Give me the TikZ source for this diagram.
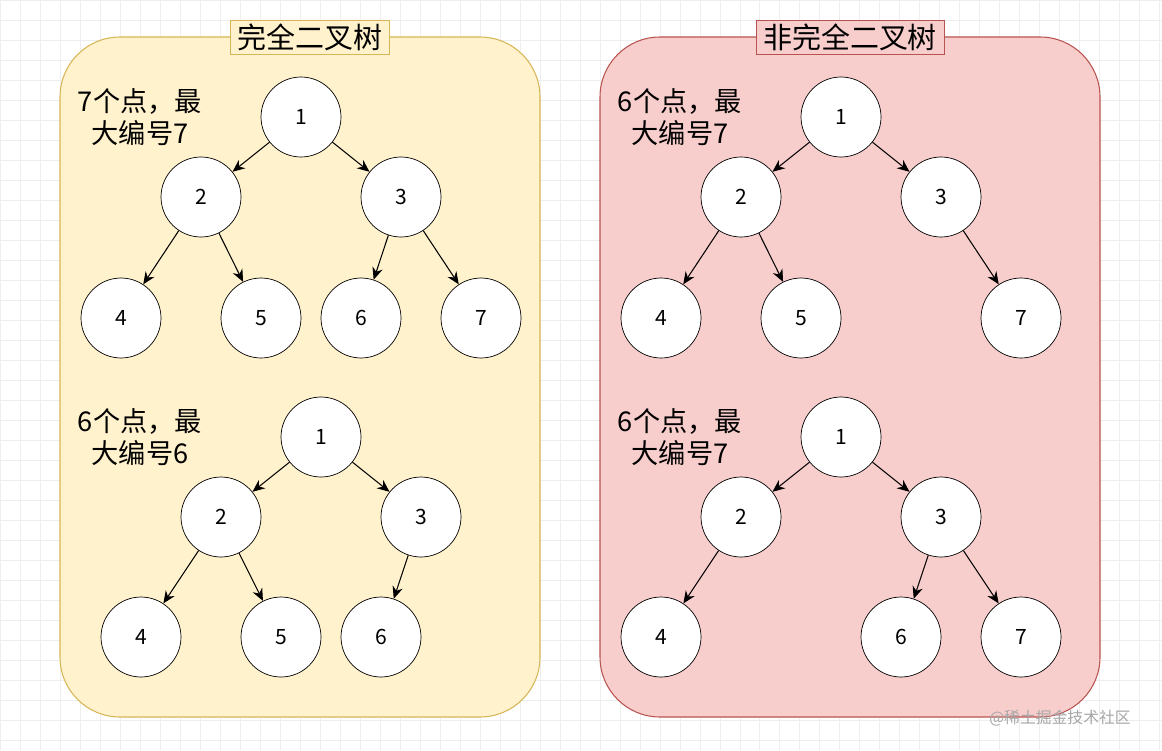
\documentclass[tikz,border=0pt]{standalone}
\usepackage{fontspec}
\setmainfont{Noto Sans CJK SC}
\usetikzlibrary{arrows.meta, positioning}
\definecolor{yelfill}{HTML}{FFF2CC}
\definecolor{yeldraw}{HTML}{D6B656}
\definecolor{redfill}{HTML}{F8CECC}
\definecolor{reddraw}{HTML}{B85450}
\definecolor{gridgray}{HTML}{EEEEEE}

\tikzset{
    treenode/.style={draw=black, fill=white, circle, minimum size=1.6cm, inner sep=0pt, font=\fontsize{12}{14}\selectfont},
    panel/.style={rounded corners=1.2cm, line width=0.6pt},
    paneltitle/.style={draw, font=\fontsize{16.5}{19}\selectfont, inner xsep=4pt, inner ysep=2pt},
    countlabel/.style={align=center, font=\fontsize{15.5}{18.5}\selectfont},
    edge/.style={-{Stealth[length=7pt,width=6pt]}, line width=0.6pt}
}

\begin{document}
\begin{tikzpicture}[x=0.02cm, y=-0.02cm]
    \useasboundingbox (0,0) rectangle (1162,750);
    \fill[white] (0,0) rectangle (1162,750);
    \draw[gridgray, step=0.4cm] (0,0) grid (1162,750);

    % panels
    \draw[panel, fill=yelfill, draw=yeldraw] (60,37) rectangle (540,717);
    \draw[panel, fill=redfill, draw=reddraw] (600,37) rectangle (1100,717);
    \node[paneltitle, fill=yelfill, draw=yeldraw] (titlea) at (310,37) {完全二叉树};
    \node[paneltitle, fill=redfill, draw=reddraw] (titleb) at (850,37) {非完全二叉树};

    % left top tree
    \node[countlabel] (cnta) at (140,117) {7个点，最\\大编号7};
    \node[treenode] (a1) at (301,117) {1};
    \node[treenode] (a2) at (201,197) {2};
    \node[treenode] (a3) at (401,197) {3};
    \node[treenode] (a4) at (121,318) {4};
    \node[treenode] (a5) at (261,318) {5};
    \node[treenode] (a6) at (361,318) {6};
    \node[treenode] (a7) at (481,318) {7};
    \foreach \p/\c in {a1/a2, a1/a3, a2/a4, a2/a5, a3/a6, a3/a7}
        \draw[edge] (\p) -- (\c);

    % left bottom tree
    \node[countlabel] (cntb) at (140,437) {6个点，最\\大编号6};
    \node[treenode] (b1) at (321,437) {1};
    \node[treenode] (b2) at (221,517) {2};
    \node[treenode] (b3) at (421,517) {3};
    \node[treenode] (b4) at (141,637) {4};
    \node[treenode] (b5) at (281,637) {5};
    \node[treenode] (b6) at (381,637) {6};
    \foreach \p/\c in {b1/b2, b1/b3, b2/b4, b2/b5, b3/b6}
        \draw[edge] (\p) -- (\c);

    % right top tree
    \node[countlabel] (cntc) at (680,117) {6个点，最\\大编号7};
    \node[treenode] (c1) at (841,117) {1};
    \node[treenode] (c2) at (741,197) {2};
    \node[treenode] (c3) at (941,197) {3};
    \node[treenode] (c4) at (661,318) {4};
    \node[treenode] (c5) at (801,318) {5};
    \node[treenode] (c7) at (1021,318) {7};
    \foreach \p/\c in {c1/c2, c1/c3, c2/c4, c2/c5, c3/c7}
        \draw[edge] (\p) -- (\c);

    % right bottom tree
    \node[countlabel] (cntd) at (680,437) {6个点，最\\大编号7};
    \node[treenode] (d1) at (841,437) {1};
    \node[treenode] (d2) at (741,517) {2};
    \node[treenode] (d3) at (941,517) {3};
    \node[treenode] (d4) at (661,637) {4};
    \node[treenode] (d6) at (901,637) {6};
    \node[treenode] (d7) at (1021,637) {7};
    \foreach \p/\c in {d1/d2, d1/d3, d2/d4, d3/d6, d3/d7}
        \draw[edge] (\p) -- (\c);

    \node[text=gray!70, font=\fontsize{9}{11}\selectfont] (mark) at (1060,718) {@稀土掘金技术社区};
\end{tikzpicture}
\end{document}
